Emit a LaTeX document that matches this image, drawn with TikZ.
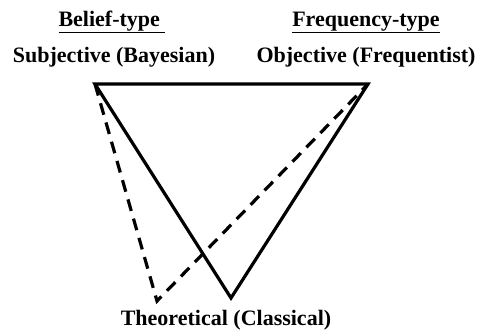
\documentclass[tikz,border=0pt]{standalone}
\usepackage{fontspec}
\setmainfont{Liberation Serif}
\usetikzlibrary{positioning}

\begin{document}
\begin{tikzpicture}[
  x=1pt, y=-1pt,
  font=\fontsize{22}{26}\selectfont\bfseries,
  lbl/.style={inner sep=0pt, anchor=base},
  edge/.style={line width=3.2pt, line join=miter},
  dash edge/.style={line width=3.2pt, dash pattern=on 12pt off 8pt}
]
\useasboundingbox (0,0) rectangle (478,335);
% vertices
\coordinate (subj) at (95,84);
\coordinate (obj)  at (368,84);
\coordinate (theo) at (231,298);
\coordinate (alt)  at (157,301);
% labels
\node[lbl] (belief) at (112,26) {\underline{Belief-type\ }};
\node[lbl] (freq)   at (366,26) {\underline{Frequency-type}};
\node[lbl] (bayes)  at (114,62) {Subjective (Bayesian)};
\node[lbl] (freqt)  at (366,62) {Objective (Frequentist)};
\node[lbl] (class)  at (226,325) {Theoretical (Classical)};
% triangles
\draw[edge] (subj) -- (obj) -- (theo) -- cycle;
\draw[dash edge] (subj) -- (alt) -- (obj);
\end{tikzpicture}
\end{document}
